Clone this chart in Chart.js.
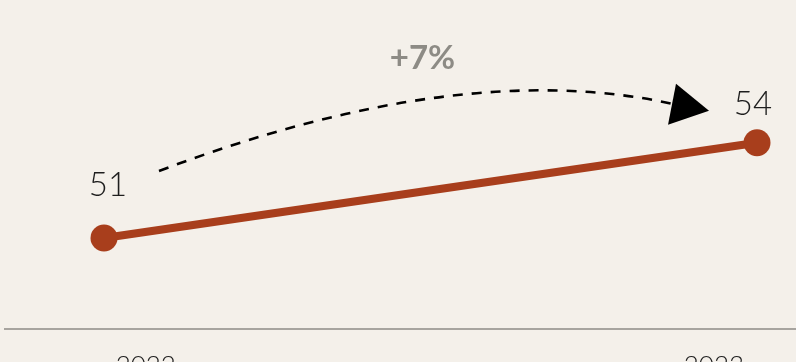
<!DOCTYPE html>
<html>
<head>
<meta charset="utf-8">
<script src="https://cdn.jsdelivr.net/npm/chart.js@4.4.1/dist/chart.umd.min.js"></script>
<style>
  html, body { margin: 0; padding: 0; background: #f4f0ea; overflow: hidden; }
  canvas { display: block; }
</style>
</head>
<body>
<canvas id="chart" width="796" height="400"></canvas>
<script>
// dados
const years = ["2022", "2023"];
const values = [51, 54];
const changeLabel = "+7%";

const COLORS = {
  bg: "#f4f0ea",
  line: "#a83e1c",
  axis: "#a7a49f",
  text: "#1e1e1e",
  change: "#8d8b85",
};

const FONT = "Lato, 'Noto Sans', sans-serif";

// rótulos de valor + seta tracejada
const annotations = {
  id: "annotations",
  afterDatasetsDraw(chart) {
    const ctx = chart.ctx;
    const pts = chart.getDatasetMeta(0).data;
    const p0 = pts[0], p1 = pts[1];

    ctx.save();
    ctx.fillStyle = COLORS.text;
    ctx.font = "300 33px " + FONT;
    ctx.textAlign = "center";
    ctx.textBaseline = "alphabetic";
    ctx.fillText(String(values[0]), p0.x + 4, p0.y - 42);
    ctx.fillText(String(values[1]), p1.x - 4, p1.y - 28);

    // curva
    const sx = p0.x + 55, sy = p0.y - 67;
    const ex = p1.x - 85, ey = p1.y - 39;
    const cx = (sx + ex) / 2 + 45, cy = (sy + ey) / 2 - 80;
    ctx.strokeStyle = "#000";
    ctx.lineWidth = 2.6;
    ctx.setLineDash([10, 9]);
    ctx.beginPath();
    ctx.moveTo(sx, sy);
    ctx.quadraticCurveTo(cx, cy, ex, ey);
    ctx.stroke();
    ctx.setLineDash([]);

    // ponta da seta
    ctx.fillStyle = "#000";
    ctx.beginPath();
    ctx.moveTo(p1.x - 48, p1.y - 32);
    ctx.lineTo(p1.x - 81, p1.y - 59);
    ctx.lineTo(p1.x - 89, p1.y - 18);
    ctx.closePath();
    ctx.fill();

    ctx.fillStyle = COLORS.change;
    ctx.font = "bold 33px " + FONT;
    ctx.fillText(changeLabel, cx - 38, 69);
    ctx.restore();
  },
};

new Chart(document.getElementById("chart"), {
  type: "line",
  data: {
    datasets: [
      {
        data: values.map((v, i) => ({ x: i, y: v })),
        borderColor: COLORS.line,
        backgroundColor: COLORS.line,
        borderWidth: 8,
        pointRadius: 13.5,
        pointHoverRadius: 13.5,
        pointBorderWidth: 0,
        tension: 0,
        clip: false,
      },
    ],
  },
  options: {
    responsive: false,
    animation: false,
    layout: { autoPadding: false, padding: { left: 5, right: 0, top: 0, bottom: 0 } },
    plugins: { legend: { display: false }, tooltip: { enabled: false } },
    scales: {
      x: {
        type: "linear",
        min: -0.1516,
        max: 1.0597,
        grid: { display: false, drawTicks: false },
        border: { display: true, color: COLORS.axis, width: 2 },
        afterBuildTicks(scale) {
          scale.ticks = [{ value: 0.064 }, { value: 0.934 }];
        },
        afterFit(scale) {
          scale.height = 71;
        },
        ticks: {
          autoSkip: false,
          maxRotation: 0,
          padding: 21,
          color: COLORS.text,
          font: { family: FONT, size: 26, weight: "300" },
          callback: (v, i) => years[i],
        },
      },
      y: {
        display: false,
        min: 48.13,
        max: 58.5,
      },
    },
  },
  plugins: [annotations],
});
</script>
</body>
</html>
